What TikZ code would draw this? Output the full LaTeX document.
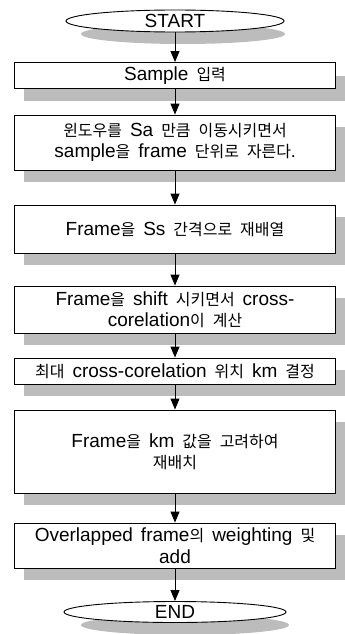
\documentclass[tikz,border=0pt]{standalone}
\usepackage{fontspec}
\setmainfont{Liberation Sans}
\newfontfamily\kr{Noto Sans CJK KR}[Scale=0.84]
\newcommand\K[1]{{\kr #1}}
\newcommand\nodefont{\fontsize{19}{21.5}\selectfont\spaceskip 8pt plus 1pt\relax}
\usetikzlibrary{shapes.geometric,arrows.meta}
\definecolor{shadowgray}{RGB}{188,188,188}
\tikzset{
  shadowfill/.style={fill=shadowgray,draw=none},
  txt/.style={font={\nodefont}, align=center},
  procbox/.style={draw,line width=0.9pt,fill=white,minimum width=321pt,minimum height=#1,inner sep=0pt,txt},
  term/.style={draw,ellipse,line width=0.9pt,fill=white,minimum width=218pt,minimum height=22pt,inner sep=0pt,txt},
  arr/.style={line width=1pt,-{Triangle[length=11pt,width=9pt]}}
}
\begin{document}
\begin{tikzpicture}[x=1pt,y=-1pt]
\useasboundingbox (0,0) rectangle (345,634);
% shadows first
\fill[shadowfill] (183,34) ellipse [x radius=102, y radius=10];
\fill[shadowfill] (24,75.5) rectangle (345,101);
\fill[shadowfill] (24,127) rectangle (345,182);
\fill[shadowfill] (24,217) rectangle (345,265);
\fill[shadowfill] (24,298) rectangle (345,345);
\fill[shadowfill] (24,370) rectangle (345,396);
\fill[shadowfill] (24,422) rectangle (345,505);
\fill[shadowfill] (24,535) rectangle (345,580);
\fill[shadowfill] (185,625) ellipse [x radius=104, y radius=10];
\node[term] (start) at (175,21) {START};
\node[procbox=26pt] (b1) at (175,75.5) {Sample \K{입력}};
\node[procbox=55pt] (b2) at (175,142.5) {\K{윈도우를} Sa \K{만큼 이동시키면서}\\ sample\K{을} frame \K{단위로 자른다.}};
\node[procbox=48pt] (b3) at (175,229) {Frame\K{을} Ss \K{간격으로 재배열}};
\node[procbox=47pt] (b4) at (175,309.5) {Frame\K{을} shift \K{시키면서} cross-\\ corelation\K{이 계산}};
\node[procbox=26pt] (b5) at (175,371) {\K{최대} cross-corelation \K{위치} km \K{결정}};
\node[procbox=83pt] (b6) at (175,451.5) {Frame\K{을} km \K{값을 고려하여}\\ \K{재배치}};
\node[procbox=45pt] (b7) at (175,545.5) {Overlapped frame\K{의} weighting \K{및}\\ add};
\node[term,minimum height=21pt,minimum width=222pt] (end) at (175,612) {END};
\draw[arr] (start) -- (b1);
\draw[arr] (b1) -- (b2);
\draw[arr] (b2) -- (b3);
\draw[arr] (b3) -- (b4);
\draw[arr] (b4) -- (b5);
\draw[arr] (b5) -- (b6);
\draw[arr] (b6) -- (b7);
\draw[arr] (b7) -- (end);
\end{tikzpicture}
\end{document}
